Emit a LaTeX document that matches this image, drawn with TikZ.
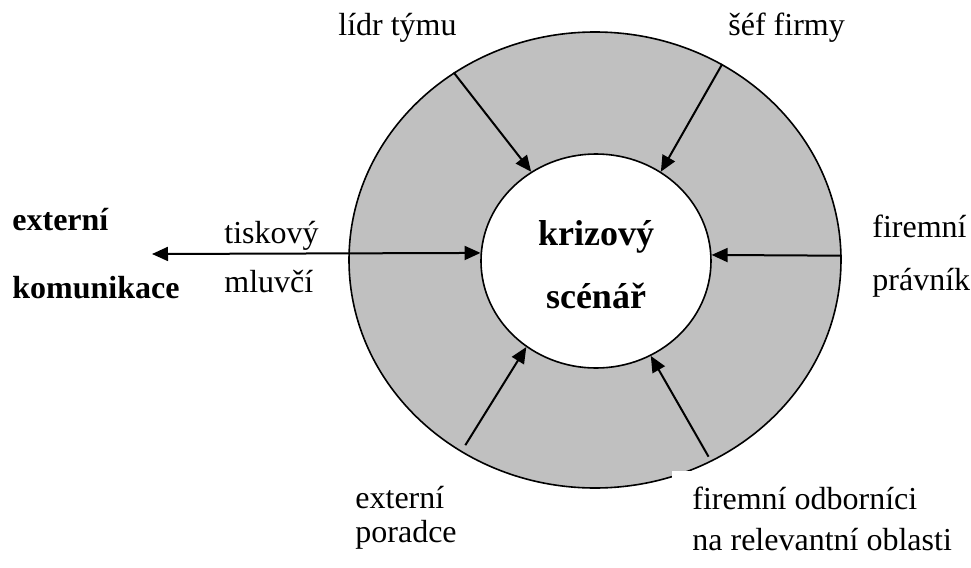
\documentclass[tikz,border=0pt]{standalone}
\usepackage{fontspec}
\setmainfont{Liberation Serif}
\usetikzlibrary{shapes.geometric, arrows.meta, positioning, calc}
\definecolor{ringgray}{RGB}{192, 192, 192}

\tikzset{
    lbl/.style={font=\fontsize{16}{19}\selectfont, inner sep=0pt, anchor=base west},
    boldlbl/.style={lbl, font=\fontsize{16}{19}\selectfont\bfseries},
    centrelbl/.style={font=\fontsize{18}{21}\selectfont\bfseries, inner sep=0pt, anchor=base},
    ring/.style={ellipse, draw, line width=0.8pt, inner sep=0pt},
    arr/.style={line width=1pt, -{Triangle[length=8pt, width=7pt]}},
    arrboth/.style={line width=1pt, {Triangle[length=8pt, width=7pt]}-{Triangle[length=8pt, width=7pt]}}
}

\begin{document}
\begin{tikzpicture}[x=0.5pt, y=-0.5pt]
    \useasboundingbox (0,0) rectangle (971,568);

    % Outer ring and inner ellipse
    \node[ring, fill=ringgray, minimum width=246pt, minimum height=228pt] (outer) at (595,260) {};
    \node[ring, fill=white, minimum width=115pt, minimum height=107pt] (scen) at (596,261) {};

    % Centre text
    \node[centrelbl] (kriz) at (596,245) {krizový};
    \node[centrelbl] (scenar) at (596,308) {scénář};

    % Arrows into the scenario
    \draw[arr] (outer.127.8) -- (scen.126.2);
    \draw[arr] (outer.57.1) -- (scen.54.9);
    \draw[arr] (outer.1.5) -- (scen.3.5);
    \draw[arr] ($(outer.center)!0.965!(outer.235)$) -- (scen.231.5);
    \draw[arr] ($(outer.center)!0.975!(outer.300.5)$) -- (scen.300.2);

    % External communication
    \coordinate (extpt) at (152,254);
    \draw[arrboth] (extpt) -- (scen.176.5);

    % Labels
    \node[boldlbl] (ext1) at (12,230) {externí};
    \node[boldlbl] (ext2) at (12,298) {komunikace};
    \node[lbl] (tisk1) at (224,243) {tiskový};
    \node[lbl] (tisk2) at (224,292) {mluvčí};
    \node[lbl] (lidr) at (338,35) {lídr týmu};
    \node[lbl] (sef) at (728,35) {šéf firmy};
    \node[lbl] (prav1) at (872,237) {firemní};
    \node[lbl] (prav2) at (872,290) {právník};
    \node[lbl] (por1) at (355,508) {externí};
    \node[lbl] (por2) at (355,542) {poradce};
    \node[lbl, fill=white, inner xsep=10pt, inner ysep=7.5pt] (odb1) at (672,509) {firemní odborníci};
    \node[lbl] (odb2) at (692,550) {na relevantní oblasti};
\end{tikzpicture}
\end{document}
